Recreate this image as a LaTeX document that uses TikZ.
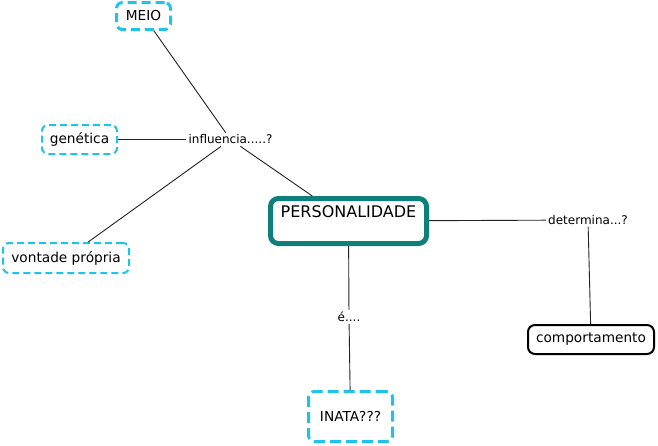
\documentclass[tikz,border=0pt]{standalone}
\usepackage{fontspec}
\setmainfont{DejaVu Sans}
\definecolor{cyanline}{HTML}{1EC2EA}
\definecolor{tealline}{HTML}{0F7F7B}
\definecolor{linkline}{HTML}{222222}
\begin{document}
\begin{tikzpicture}[x=1pt,y=-1pt,
  concept/.style={rectangle,rounded corners=6pt,inner sep=0pt,font=\fontsize{13.7}{16}\selectfont},
  dashedbox/.style={concept,draw=cyanline,line width=2pt,dash pattern=on 7pt off 4pt},
  thickdash/.style={concept,draw=cyanline,line width=3pt,dash pattern=on 9pt off 5pt},
  linklabel/.style={inner sep=2pt,font=\fontsize{12}{14}\selectfont},
  conn/.style={draw=linkline,line width=0.9pt}]
\useasboundingbox (0,0) rectangle (658,445);
% concepts
\node[thickdash,minimum width=54pt,minimum height=27pt] (meio) at (143.5,16) {MEIO};
\node[dashedbox,minimum width=75pt,minimum height=29pt] (gen) at (79.5,139.5) {genética};
\node[dashedbox,minimum width=126pt,minimum height=30pt] (vont) at (66,258) {vontade própria};
\node[concept,draw=tealline,line width=5pt,rounded corners=8pt,minimum width=156pt,minimum height=45pt,
  label={[anchor=center,font=\fontsize{16}{19}\selectfont,yshift=-16pt]north:PERSONALIDADE}] (pers) at (348.5,221) {};
\node[thickdash,minimum width=84pt,minimum height=50pt,dash pattern=on 11pt off 5pt] (inata) at (350.5,416.5) {INATA???};
\node[concept,draw=black,line width=2pt,rounded corners=7pt,minimum width=126pt,minimum height=29pt] (comp) at (591,339.5) {comportamento};
% link labels
\node[linklabel] (infl) at (230.5,139.5) {influencia.....?};
\node[linklabel] (det) at (588,220) {determina...?};
\node[linklabel] (e) at (349,317) {é....};
% connectors
\draw[conn] (meio) -- (infl);
\draw[conn] (gen) -- (infl);
\draw[conn] (infl) -- (vont);
\draw[conn] (infl) -- (pers);
\draw[conn] (pers) -- (det);
\draw[conn] (det) -- (comp);
\draw[conn] (pers) -- (e);
\draw[conn] (e) -- (inata);
\end{tikzpicture}
\end{document}
